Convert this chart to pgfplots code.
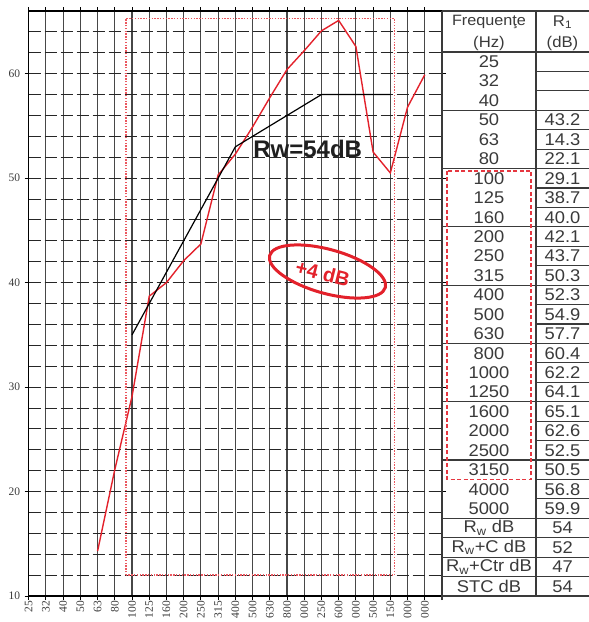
\documentclass[border=0pt]{standalone}
\usepackage{pgfplots}
\pgfplotsset{compat=1.18}
\usepackage{fontspec}
\setmainfont{Liberation Serif}
\newfontfamily\sans{Liberation Sans}
\newfontfamily\tabfont[FakeStretch=1.08]{Liberation Sans}
\definecolor{mred}{HTML}{E3212B}
\definecolor{tgray}{HTML}{3A3A3A}

\begin{document}
\begin{tikzpicture}
\begin{axis}[
    name=ax, at={(0,0)}, anchor=south west,
    scale only axis, width=413.3pt, height=585pt,
    xmin=0, xmax=24, ymin=10, ymax=66,
    xtick={0,...,23},
    xticklabels={25,32,40,50,63,80,100,125,160,200,250,315,400,500,630,800,000,250,600,000,500,150,000,000},
    ytick={10,20,...,60},
    minor ytick={12,14,...,64},
    xmajorgrids, ymajorgrids, yminorgrids,
    x grid style={black!72, line width=1.1pt},
    y grid style={black!85, line width=0.9pt, dash pattern=on 12pt off 4pt},
    axis line style={black, line width=1.3pt},
    tick align=outside, major tick length=4pt, minor tick length=0pt,
    tick style={black, line width=0.9pt},
    /pgf/number format/assume math mode=true,
    ticklabel style={font=\fontsize{11.5}{11.5}\selectfont, text=tgray},
    xticklabel style={rotate=90, anchor=east, inner sep=1pt},
    yticklabel style={xshift=-1pt},
]
\addplot[mred, line width=1.4pt] coordinates {
    (4,14.3)(5,22.1)(6,29.1)(7,38.7)(8,40.0)(9,42.1)(10,43.7)(11,50.3)
    (12,52.3)(13,54.9)(14,57.7)(15,60.4)(16,62.2)(17,64.1)(18,65.1)
    (19,62.6)(20,52.5)(21,50.5)(22,56.8)(23,59.9)
};
\addplot[black, line width=1.2pt] coordinates {
    (6,35)(7,38)(8,41)(9,44)(10,47)(11,50)(12,53)(13,54)(14,55)(15,56)
    (16,57)(17,58)(18,58)(19,58)(20,58)(21,58)
};
\draw[mred!75, line width=1.4pt, dash pattern=on 1.4pt off 1.4pt]
    (axis cs:5.65,12) rectangle (axis cs:21.23,65.3);
\node[font=\sans\bfseries\fontsize{24}{24}\selectfont, text=black!88]
    at (axis cs:16.2,52.8) {Rw=54dB};
\end{axis}

\begin{scope}[shift={(ax.south west)}, x=1pt, y=1pt]
% stamp
\draw[mred, line width=3pt, rotate around={-15.5:(298.8,324.5)}]
    (298.8,324.5) ellipse (60 and 22);
\node[font=\sans\bfseries\fontsize{20}{20}\selectfont, text=mred, rotate=-14]
    at (294,323) {+4 dB};

% table
\def\h{19.43}
\begin{scope}[tgray, line width=1.1pt]
\draw (413.3,-4) -- (413.3,585);
\draw (507.3,0) -- (507.3,585);
\draw (413.3,585) -- (560.3,585);
\draw (413.3,544) -- (560.3,544);
\foreach \k in {3,6,...,21} \draw (413.3,544-\k*\h) -- (507.3,544-\k*\h);
\foreach \k in {1,...,24} \draw (507.3,544-\k*\h) -- (560.3,544-\k*\h);
\foreach \k in {24,...,28} \draw (413.3,544-\k*\h) -- (560.3,544-\k*\h);
\end{scope}
\draw[mred!90, line width=1.1pt, dash pattern=on 4pt off 2.5pt]
    (418.3,425) rectangle (502.3,116.5);

\begin{scope}[every node/.style={text=tgray, inner sep=0pt,
    font=\tabfont\fontsize{17}{17}\selectfont}]
\node[font=\tabfont\fontsize{15}{15}\selectfont] at (460.3,574) {Frequen\c{t}e};
\node[font=\tabfont\fontsize{15.5}{15.5}\selectfont] at (460.3,553) {(Hz)};
\node[font=\tabfont\fontsize{15.5}{15.5}\selectfont] at (533.8,574) {R\textsubscript{1}};
\node[font=\tabfont\fontsize{15.5}{15.5}\selectfont] at (533.8,553) {(dB)};
\foreach \f [count=\i from 0] in {25,32,40,50,63,80,100,125,160,200,250,315,
        400,500,630,800,1000,1250,1600,2000,2500,3150,4000,5000}
    \node at (460.3,544-\i*\h-0.5*\h) {\f};
\foreach \r [count=\i from 3] in {43.2,14.3,22.1,29.1,38.7,40.0,42.1,43.7,50.3,
        52.3,54.9,57.7,60.4,62.2,64.1,65.1,62.6,52.5,50.5,56.8,59.9}
    \node at (533.8,544-\i*\h-0.5*\h) {\r};
\node at (460.3,544-24.5*\h) {R\textsubscript{w} dB};
\node at (460.3,544-25.5*\h) {R\textsubscript{w}+C dB};
\node at (460.3,544-26.5*\h) {R\textsubscript{w}+Ctr dB};
\node at (460.3,544-27.5*\h) {STC dB};
\node at (533.8,544-24.5*\h) {54};
\node at (533.8,544-25.5*\h) {52};
\node at (533.8,544-26.5*\h) {47};
\node at (533.8,544-27.5*\h) {54};
\end{scope}

\pgfresetboundingbox
\useasboundingbox (-28.7,-26) rectangle (560.3,596);
\end{scope}
\end{tikzpicture}
\end{document}
